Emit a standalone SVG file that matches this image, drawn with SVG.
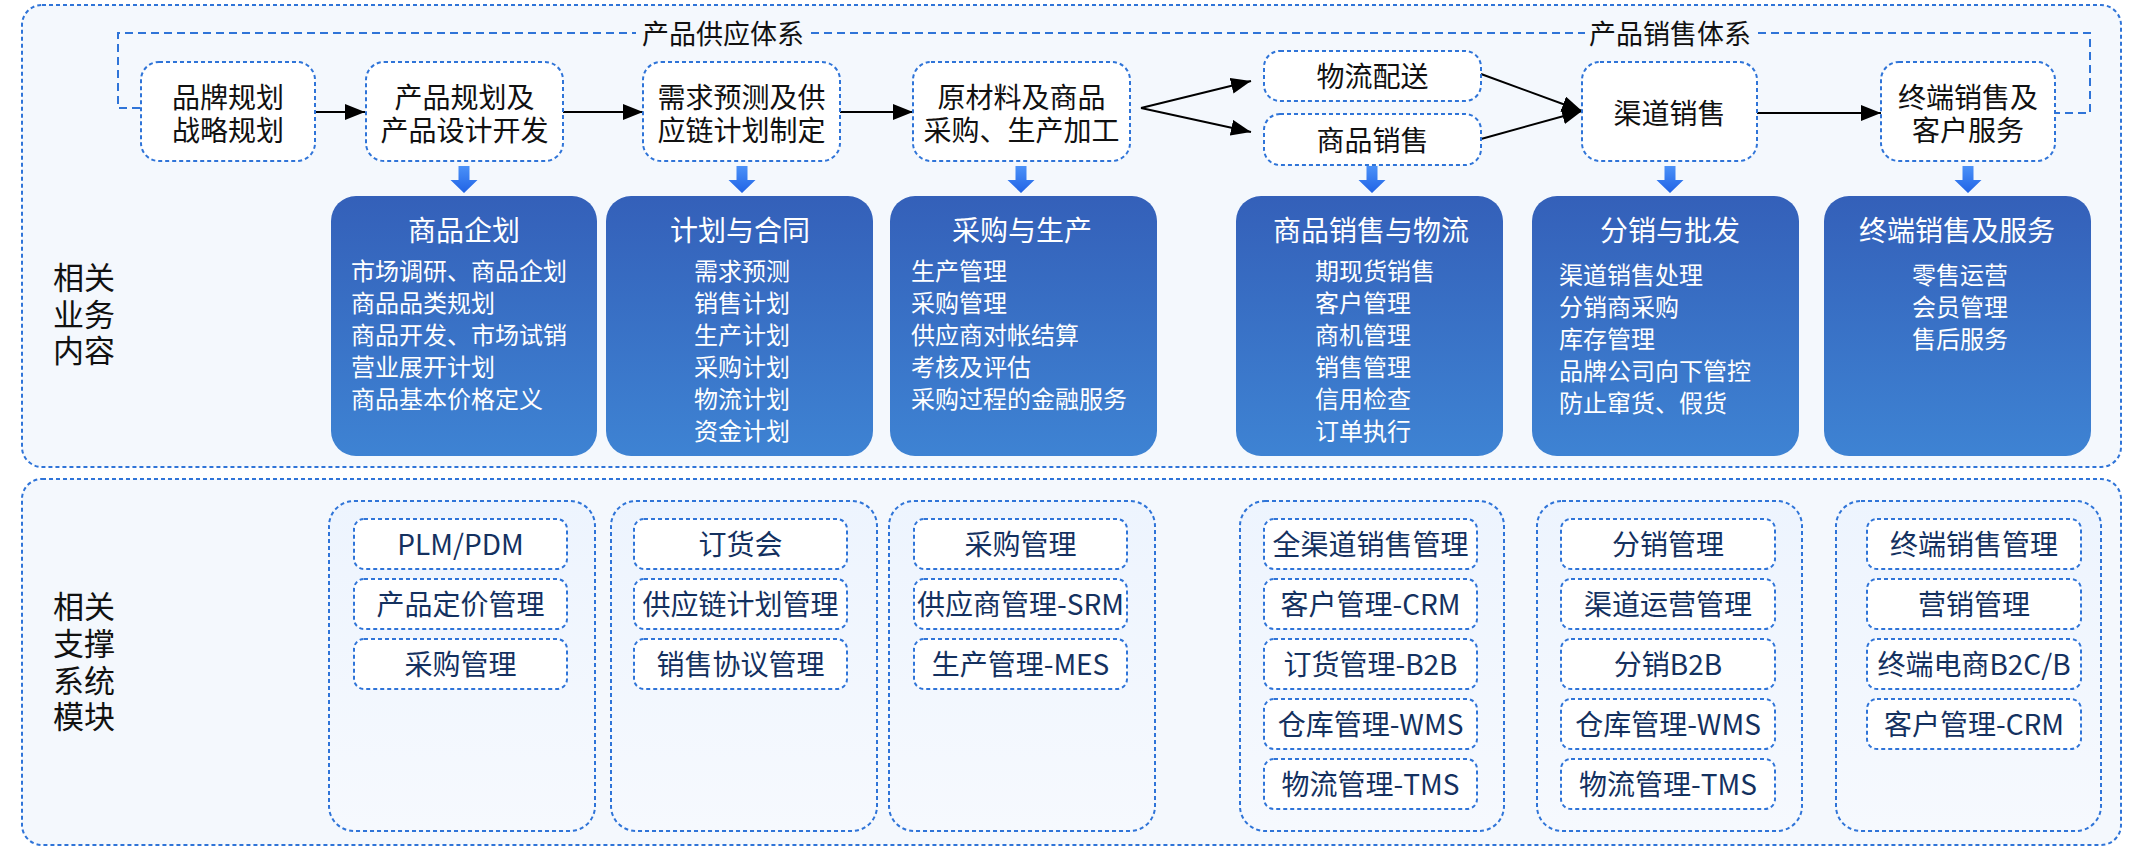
<svg xmlns="http://www.w3.org/2000/svg" width="2142" height="848" viewBox="0 0 2142 848">
<defs>
<style>
.frame{fill:#f4f8fd;stroke:#2f74d8;stroke-width:2;stroke-dasharray:4 3}
.node{fill:#ffffff;stroke:#2f74d8;stroke-width:2;stroke-dasharray:4 3}
.col{fill:url(#colg);stroke:#2f74d8;stroke-width:2;stroke-dasharray:4 3}
.item{fill:#ffffff;stroke:#2f74d8;stroke-width:2;stroke-dasharray:4 3}
.box{fill:url(#boxg)}
text{font-family:"Noto Sans CJK SC","Noto Sans",sans-serif}
.nt{font-size:28px;fill:#111111;text-anchor:middle}
.lab{font-size:31px;fill:#111111;text-anchor:middle}
.sys{font-size:27px;fill:#111111;text-anchor:middle}
.bt{font-size:28px;fill:#ffffff;text-anchor:middle}
.bi{font-size:24px;fill:#ffffff}
.bc{text-anchor:middle}
.it{font-size:28px;fill:#14315f;text-anchor:middle}
.arr{stroke:#000000;stroke-width:2;fill:none;marker-end:url(#ah)}
.br{stroke:#2f74d8;stroke-width:2;stroke-dasharray:8 5;fill:none}
</style>
<linearGradient id="boxg" x1="0" y1="0" x2="0" y2="1">
<stop offset="0" stop-color="#3460b9"/>
<stop offset="1" stop-color="#3e83d3"/>
</linearGradient>
<linearGradient id="colg" x1="0" y1="0" x2="0" y2="1">
<stop offset="0" stop-color="#edf4fe"/>
<stop offset="1" stop-color="#f6f9fe"/>
</linearGradient>
<linearGradient id="ag" x1="0" y1="0" x2="0" y2="1">
<stop offset="0" stop-color="#4b91f8"/>
<stop offset="1" stop-color="#2063e5"/>
</linearGradient>
<marker id="ah" markerWidth="20" markerHeight="16" refX="20" refY="8" orient="auto" markerUnits="userSpaceOnUse">
<path d="M0,0 L20,8 L0,16 Z" fill="#000000"/>
</marker>
<path id="da" d="M-5.5,0 H5.5 V14 H13.5 L0,27 L-13.5,14 H-5.5 Z" fill="url(#ag)"/>
</defs>

<rect width="2142" height="848" fill="#ffffff"/>

<g id="frame-business">
<rect class="frame" x="22" y="5" width="2099" height="462" rx="20"/>
<text class="lab"><tspan x="84" y="289">相关</tspan><tspan x="84" y="326">业务</tspan><tspan x="84" y="362">内容</tspan></text>
</g>
<g id="frame-systems">
<rect class="frame" x="22" y="479" width="2099" height="366" rx="20"/>
<text class="lab"><tspan x="84" y="618">相关</tspan><tspan x="84" y="655">支撑</tspan><tspan x="84" y="692">系统</tspan><tspan x="84" y="728">模块</tspan></text>
</g>

<g id="connectors">
<path class="br" d="M140,108 H118 V33 H636"/>
<path class="br" d="M811,33 H1585"/>
<path class="br" d="M1758,33 H2090 V113 H2055"/>
<line class="arr" x1="315" y1="112" x2="365" y2="112"/>
<line class="arr" x1="563" y1="112" x2="643" y2="112"/>
<line class="arr" x1="840" y1="112" x2="913" y2="112"/>
<line class="arr" x1="1141" y1="108" x2="1251" y2="81"/>
<line class="arr" x1="1141" y1="108" x2="1251" y2="132"/>
<line class="arr" x1="1481" y1="74" x2="1582" y2="111"/>
<line class="arr" x1="1481" y1="139" x2="1582" y2="111"/>
<line class="arr" x1="1757" y1="113" x2="1881" y2="113"/>
<use href="#da" x="464" y="166"/>
<use href="#da" x="742" y="166"/>
<use href="#da" x="1021" y="166"/>
<use href="#da" x="1372" y="166"/>
<use href="#da" x="1670" y="166"/>
<use href="#da" x="1968" y="166"/>
</g>

<g id="label-supply"><text class="sys" x="723" y="44">产品供应体系</text></g>
<g id="label-sales"><text class="sys" x="1670" y="44">产品销售体系</text></g>

<g id="n-brand">
<rect class="node" x="141" y="62" width="174" height="99" rx="18"/>
<text class="nt"><tspan x="228" y="107.5">品牌规划</tspan><tspan x="228" y="140.5">战略规划</tspan></text>
</g>
<g id="n-product">
<rect class="node" x="366" y="62" width="197" height="99" rx="18"/>
<text class="nt"><tspan x="464.5" y="107.5">产品规划及</tspan><tspan x="464.5" y="140.5">产品设计开发</tspan></text>
</g>
<g id="n-demand">
<rect class="node" x="643" y="62" width="197" height="99" rx="18"/>
<text class="nt"><tspan x="741.5" y="107.5">需求预测及供</tspan><tspan x="741.5" y="140.5">应链计划制定</tspan></text>
</g>
<g id="n-purchase">
<rect class="node" x="913" y="62" width="217" height="99" rx="18"/>
<text class="nt"><tspan x="1021.5" y="107.5">原材料及商品</tspan><tspan x="1021.5" y="140.5">采购、生产加工</tspan></text>
</g>
<g id="n-logistics">
<rect class="node" x="1264" y="51" width="217" height="50" rx="16"/>
<text class="nt" x="1372.5" y="87">物流配送</text>
</g>
<g id="n-sales">
<rect class="node" x="1264" y="114" width="217" height="51" rx="16"/>
<text class="nt" x="1372.5" y="151">商品销售</text>
</g>
<g id="n-channel">
<rect class="node" x="1582" y="62" width="175" height="99" rx="18"/>
<text class="nt" x="1669.5" y="123.5">渠道销售</text>
</g>
<g id="n-terminal">
<rect class="node" x="1881" y="62" width="174" height="99" rx="18"/>
<text class="nt"><tspan x="1968" y="107.5">终端销售及</tspan><tspan x="1968" y="140.5">客户服务</tspan></text>
</g>

<g id="b-planning">
<rect class="box" x="331" y="196" width="266" height="260" rx="25"/>
<text class="bt" x="464" y="240.5">商品企划</text>
<text class="bi" x="351" y="280">市场调研、商品企划</text>
<text class="bi" x="351" y="312">商品品类规划</text>
<text class="bi" x="351" y="344">商品开发、市场试销</text>
<text class="bi" x="351" y="376">营业展开计划</text>
<text class="bi" x="351" y="408">商品基本价格定义</text>
</g>
<g id="b-plan-contract">
<rect class="box" x="606" y="196" width="267" height="260" rx="25"/>
<text class="bt" x="740" y="240.5">计划与合同</text>
<text class="bi bc" x="742" y="280">需求预测</text>
<text class="bi bc" x="742" y="312">销售计划</text>
<text class="bi bc" x="742" y="344">生产计划</text>
<text class="bi bc" x="742" y="376">采购计划</text>
<text class="bi bc" x="742" y="408">物流计划</text>
<text class="bi bc" x="742" y="440">资金计划</text>
</g>
<g id="b-purchase-production">
<rect class="box" x="890" y="196" width="267" height="260" rx="25"/>
<text class="bt" x="1022" y="240.5">采购与生产</text>
<text class="bi" x="911" y="280">生产管理</text>
<text class="bi" x="911" y="312">采购管理</text>
<text class="bi" x="911" y="344">供应商对帐结算</text>
<text class="bi" x="911" y="376">考核及评估</text>
<text class="bi" x="911" y="408">采购过程的金融服务</text>
</g>
<g id="b-sales-logistics">
<rect class="box" x="1236" y="196" width="267" height="260" rx="25"/>
<text class="bt" x="1371" y="240.5">商品销售与物流</text>
<text class="bi" x="1315" y="280">期现货销售</text>
<text class="bi" x="1315" y="312">客户管理</text>
<text class="bi" x="1315" y="344">商机管理</text>
<text class="bi" x="1315" y="376">销售管理</text>
<text class="bi" x="1315" y="408">信用检查</text>
<text class="bi" x="1315" y="440">订单执行</text>
</g>
<g id="b-distribution">
<rect class="box" x="1532" y="196" width="267" height="260" rx="25"/>
<text class="bt" x="1670" y="240.5">分销与批发</text>
<text class="bi" x="1559" y="284">渠道销售处理</text>
<text class="bi" x="1559" y="316">分销商采购</text>
<text class="bi" x="1559" y="348">库存管理</text>
<text class="bi" x="1559" y="380">品牌公司向下管控</text>
<text class="bi" x="1559" y="412">防止窜货、假货</text>
</g>
<g id="b-terminal">
<rect class="box" x="1824" y="196" width="267" height="260" rx="25"/>
<text class="bt" x="1957" y="240.5">终端销售及服务</text>
<text class="bi bc" x="1960" y="284">零售运营</text>
<text class="bi bc" x="1960" y="316">会员管理</text>
<text class="bi bc" x="1960" y="348">售后服务</text>
</g>

<g id="s-planning">
<rect class="col" x="329" y="501" width="266" height="330" rx="25"/>
<rect class="item" x="354" y="519" width="213" height="50" rx="10"/>
<text class="it" x="460.5" y="555">PLM/PDM</text>
<rect class="item" x="354" y="579" width="213" height="50" rx="10"/>
<text class="it" x="460.5" y="615">产品定价管理</text>
<rect class="item" x="354" y="639" width="213" height="50" rx="10"/>
<text class="it" x="460.5" y="675">采购管理</text>
</g>
<g id="s-plan-contract">
<rect class="col" x="611" y="501" width="266" height="330" rx="25"/>
<rect class="item" x="634" y="519" width="213" height="50" rx="10"/>
<text class="it" x="740.5" y="555">订货会</text>
<rect class="item" x="634" y="579" width="213" height="50" rx="10"/>
<text class="it" x="740.5" y="615">供应链计划管理</text>
<rect class="item" x="634" y="639" width="213" height="50" rx="10"/>
<text class="it" x="740.5" y="675">销售协议管理</text>
</g>
<g id="s-purchase-production">
<rect class="col" x="889" y="501" width="266" height="330" rx="25"/>
<rect class="item" x="914" y="519" width="213" height="50" rx="10"/>
<text class="it" x="1020.5" y="555">采购管理</text>
<rect class="item" x="914" y="579" width="213" height="50" rx="10"/>
<text class="it" x="1020.5" y="615">供应商管理-SRM</text>
<rect class="item" x="914" y="639" width="213" height="50" rx="10"/>
<text class="it" x="1020.5" y="675">生产管理-MES</text>
</g>
<g id="s-sales-logistics">
<rect class="col" x="1240" y="501" width="264" height="330" rx="25"/>
<rect class="item" x="1264" y="519" width="213" height="50" rx="10"/>
<text class="it" x="1370.5" y="555">全渠道销售管理</text>
<rect class="item" x="1264" y="579" width="213" height="50" rx="10"/>
<text class="it" x="1370.5" y="615">客户管理-CRM</text>
<rect class="item" x="1264" y="639" width="213" height="50" rx="10"/>
<text class="it" x="1370.5" y="675">订货管理-B2B</text>
<rect class="item" x="1264" y="699" width="213" height="50" rx="10"/>
<text class="it" x="1370.5" y="735">仓库管理-WMS</text>
<rect class="item" x="1264" y="759" width="213" height="50" rx="10"/>
<text class="it" x="1370.5" y="795">物流管理-TMS</text>
</g>
<g id="s-distribution">
<rect class="col" x="1537" y="501" width="265" height="330" rx="25"/>
<rect class="item" x="1561" y="519" width="214" height="50" rx="10"/>
<text class="it" x="1668" y="555">分销管理</text>
<rect class="item" x="1561" y="579" width="214" height="50" rx="10"/>
<text class="it" x="1668" y="615">渠道运营管理</text>
<rect class="item" x="1561" y="639" width="214" height="50" rx="10"/>
<text class="it" x="1668" y="675">分销B2B</text>
<rect class="item" x="1561" y="699" width="214" height="50" rx="10"/>
<text class="it" x="1668" y="735">仓库管理-WMS</text>
<rect class="item" x="1561" y="759" width="214" height="50" rx="10"/>
<text class="it" x="1668" y="795">物流管理-TMS</text>
</g>
<g id="s-terminal">
<rect class="col" x="1836" y="501" width="265" height="330" rx="25"/>
<rect class="item" x="1867" y="519" width="214" height="50" rx="10"/>
<text class="it" x="1974" y="555">终端销售管理</text>
<rect class="item" x="1867" y="579" width="214" height="50" rx="10"/>
<text class="it" x="1974" y="615">营销管理</text>
<rect class="item" x="1867" y="639" width="214" height="50" rx="10"/>
<text class="it" x="1974" y="675">终端电商B2C/B</text>
<rect class="item" x="1867" y="699" width="214" height="50" rx="10"/>
<text class="it" x="1974" y="735">客户管理-CRM</text>
</g>
</svg>
